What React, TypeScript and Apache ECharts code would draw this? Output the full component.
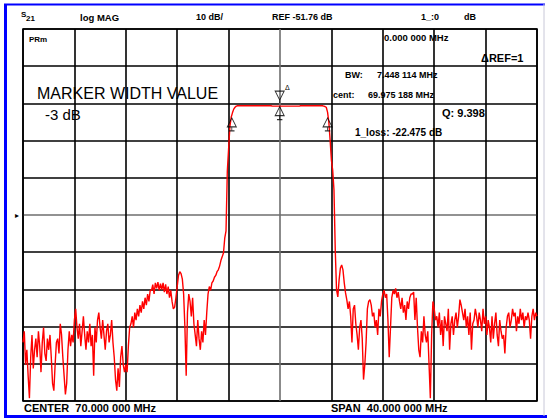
import React, { useEffect, useRef } from "react";
import * as echarts from "echarts";

// Sweep definition (network analyzer): CENTER 70 MHz, SPAN 40 MHz
const START_MHZ = 50;
const STOP_MHZ = 90;
const STEP_MHZ = 0.1;
const REF_DB = -51.76;
const DB_PER_DIV = 10;
const DIVISIONS = 10;

// S21 log magnitude trace (dB), one value per sweep point
const TRACE_DB = [
  -86, -83, -92, -88, -95, -101, -90, -84, -93, -88,
  -85, -90, -83, -87, -94, -86, -82, -89, -91, -85,
  -88, -84, -90, -97, -99, -92, -86, -85, -89, -81,
  -84, -90, -95, -100, -97, -88, -83, -87, -84, -86,
  -80, -77, -82, -85, -81, -87, -83, -79, -84, -88,
  -83, -86, -81, -87, -84, -95, -82, -86, -80, -78,
  -82, -85, -80, -84, -88, -83, -81, -86, -84, -80,
  -86, -90, -96, -99, -93, -98, -90, -87, -92, -94,
  -92, -94, -87, -82, -81, -79, -82, -78, -80, -77,
  -79, -76, -78, -75, -77, -74, -76, -73, -75, -72,
  -72, -70.5, -73, -70, -71.5, -69.8, -72, -70.2, -71.8, -70,
  -72.5, -70.4, -73, -71, -74, -72, -75, -77, -76.5, -74,
  -71, -68, -67, -67.5, -69, -73, -82, -95, -78, -73,
  -75, -79, -74, -81, -84, -87, -80, -85, -88, -83,
  -86, -80, -84, -78, -73, -71, -72, -70, -69.5, -68.5,
  -68, -67, -66.5, -65.5, -64, -63, -62, -58, -56, -40,
  -34, -28, -25.5, -24.3, -23.3, -22.8, -22.5, -22.4, -22.4, -22.4,
  -22.4, -22.4, -22.4, -22.4, -22.4, -22.4, -22.4, -22.4, -22.4, -22.4,
  -22.4, -22.4, -22.4, -22.4, -22.4, -22.4, -22.4, -22.4, -22.4, -22.4,
  -22.4, -22.4, -22.4, -22.4, -22.5, -22.5, -22.5, -22.5, -22.5, -22.5,
  -22.5, -22.5, -22.5, -22.5, -22.5, -22.5, -22.5, -22.5, -22.5, -22.5,
  -22.5, -22.5, -22.5, -22.5, -22.5, -22.5, -22.4, -22.4, -22.4, -22.4,
  -22.4, -22.4, -22.4, -22.4, -22.4, -22.4, -22.4, -22.4, -22.4, -22.4,
  -22.4, -22.4, -22.4, -22.4, -22.5, -22.6, -22.8, -24.1, -26.8, -31.6,
  -37, -39.7, -45, -61.2, -71.9, -73.8, -69.2, -66, -65.2, -66.5,
  -70, -72.7, -74.6, -77, -75, -79, -86, -77, -76, -81,
  -84, -88, -82, -80, -85, -96, -92, -86, -77, -75,
  -74.5, -76, -79, -78, -82, -80, -84, -77, -79, -75,
  -73, -72, -74, -73, -80, -90, -82, -74, -72, -73,
  -71.5, -74, -72.5, -75, -77, -74, -78, -76, -80, -75,
  -77, -74, -73, -73, -72.5, -80, -74, -82, -88, -90,
  -83, -86, -79, -84, -86, -83, -92, -101, -84, -75,
  -77, -80, -79, -82, -78, -84, -80, -87, -79, -81,
  -83, -77, -88, -81, -79, -84, -80, -78, -82, -79,
  -74.5, -76, -78, -80, -77, -82, -79, -84, -78, -88,
  -81, -80, -77, -79, -82, -78, -80, -83, -77, -81,
  -79, -84, -80, -82, -86, -79, -85, -81, -78, -84,
  -87, -80, -83, -85, -84, -89, -82, -79, -78, -82,
  -80, -77, -79, -78, -83, -79, -81, -77, -80, -78,
  -82, -79, -80, -78, -80, -85, -79, -77, -80, -78,
  -79,
];

// Markers: left -3 dB, center (marker 1), right -3 dB
const MARKER_MHZ = [66.25, 69.975, 73.7];
const MARKER_DB = [-25.5, -22.475, -25.5];

const FONT = '"Liberation Sans", Arial, sans-serif';

function gridColors(): string[] {
  const c: string[] = [];
  for (let i = 0; i <= DIVISIONS; i++) c.push(i === DIVISIONS / 2 ? "#6e6e6e" : "#000000");
  return c;
}

function txt(x: number, y: number, text: string, size: number, weight = "bold") {
  return {
    type: "text",
    x,
    y,
    silent: true,
    style: {
      text,
      fill: "#000",
      font: `${weight} ${size}px ${FONT}`,
      verticalAlign: "middle",
      align: "left",
    },
  };
}

export default function App() {
  const ref = useRef<HTMLDivElement>(null);

  useEffect(() => {
    const chart = echarts.init(ref.current!, null, { renderer: "svg" });
    const traceData = TRACE_DB.map((v, i) => [START_MHZ + i * STEP_MHZ, v]);
    const markerData = MARKER_MHZ.map((f, i) => [f, MARKER_DB[i]]);
    const colors = gridColors();

    chart.setOption({
      animation: false,
      backgroundColor: "#ffffff",
      grid: {
        left: 23,
        top: 29,
        width: 514,
        height: 372,
        show: true,
        borderColor: "#000",
        borderWidth: 1.6,
        backgroundColor: "transparent",
      },
      xAxis: [
        { type: "value", min: START_MHZ, max: STOP_MHZ, show: false },
        {
          type: "value",
          min: 0,
          max: DIVISIONS,
          interval: 1,
          axisLine: { show: false },
          axisTick: { show: false },
          axisLabel: { show: false },
          splitLine: { show: true, lineStyle: { color: colors, width: 1.6 } },
        },
      ],
      yAxis: [
        {
          type: "value",
          min: REF_DB - (DIVISIONS / 2) * DB_PER_DIV,
          max: REF_DB + (DIVISIONS / 2) * DB_PER_DIV,
          show: false,
        },
        {
          type: "value",
          min: 0,
          max: DIVISIONS,
          interval: 1,
          axisLine: { show: false },
          axisTick: { show: false },
          axisLabel: { show: false },
          splitLine: { show: true, lineStyle: { color: colors, width: 1.6 } },
        },
      ],
      series: [
        {
          type: "line",
          xAxisIndex: 0,
          yAxisIndex: 0,
          data: traceData,
          showSymbol: false,
          silent: true,
          lineStyle: { color: "#ff0000", width: 1.4 },
          z: 3,
        },
        {
          type: "scatter",
          xAxisIndex: 0,
          yAxisIndex: 0,
          data: markerData,
          symbol: "path://M5,0 L10,9 L0,9 Z M5,9 L5,13 M2,13 L8,13",
          symbolSize: [9, 13],
          symbolOffset: [0, "55%"],
          itemStyle: { color: "rgba(0,0,0,0)", borderColor: "#000", borderWidth: 1 },
          silent: true,
          z: 4,
        },
        {
          type: "scatter",
          xAxisIndex: 0,
          yAxisIndex: 0,
          data: [markerData[1]],
          symbol: "path://M0,0 L10,0 L5,9 Z M5,9 L5,12",
          symbolSize: [9, 12],
          symbolOffset: [0, "-75%"],
          itemStyle: { color: "rgba(0,0,0,0)", borderColor: "#000", borderWidth: 1 },
          silent: true,
          z: 4,
        },
      ],
      graphic: [
        { type: "line", silent: true, shape: { x1: 5.5, y1: 4, x2: 5.5, y2: 417 }, style: { stroke: "#0000ff", lineWidth: 3 } },
        { type: "line", silent: true, shape: { x1: 4, y1: 4.5, x2: 545, y2: 4.5 }, style: { stroke: "#0000ff", lineWidth: 2 } },
        { type: "line", silent: true, shape: { x1: 4, y1: 416.5, x2: 547, y2: 416.5 }, style: { stroke: "#0000ff", lineWidth: 3 } },
        { type: "line", silent: true, shape: { x1: 544, y1: 4, x2: 544, y2: 416 }, style: { stroke: "#c8c8d8", lineWidth: 1 } },
        txt(21, 14, "S", 8),
        txt(26, 18, "21", 8),
        txt(80, 17, "log MAG", 9.5),
        txt(196, 17, "10 dB/", 9),
        txt(272, 17, "REF -51.76 dB", 9),
        txt(421, 17, "1_:0", 9),
        txt(464, 17, "dB", 9),
        txt(29, 39, "PRm", 8),
        txt(384, 37, "0.000 000 MHz", 9.5),
        txt(481, 58, "\u0394REF=1", 11),
        txt(345, 75, "BW:", 9),
        txt(377, 75, "7.448 114 MHz", 9),
        txt(333, 95, "cent:", 9),
        txt(368, 95, "69.975 188 MHz", 9),
        txt(442, 113, "Q: 9.398", 11),
        txt(355, 132, "1_loss: -22.475 dB", 10),
        txt(37, 93, "MARKER WIDTH VALUE", 16, "normal"),
        txt(45, 114, "-3 dB", 15, "normal"),
        txt(24, 408, "CENTER  70.000 000 MHz", 11),
        txt(331, 408, "SPAN  40.000 000 MHz", 11),
        txt(15, 215, "\u25B8", 8, "normal"),
        txt(285, 87, "\u0394", 7, "normal"),
      ],
    });

    return () => chart.dispose();
  }, []);

  return (
    <div
      ref={ref}
      style={{ position: "fixed", left: 0, top: 0, width: 547, height: 419, background: "#fff" }}
    />
  );
}
